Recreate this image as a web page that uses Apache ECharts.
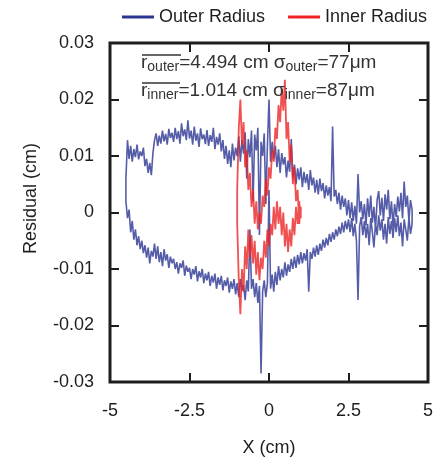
<!DOCTYPE html>
<html>
<head>
<meta charset="utf-8">
<script src="https://cdn.jsdelivr.net/npm/echarts@6/dist/echarts.min.js"></script>
<style>
  html, body { margin: 0; padding: 0; background: #fff; }
  #chart { width: 436px; height: 462px; }
</style>
</head>
<body>
<div id="chart"></div>
<script>
// x positions (cm) for the outer scan, both halves
const outerX = [
  -4.5,-4.45,-4.4,-4.35,-4.3,-4.25,-4.2,-4.15,-4.1,-4.05,
  -4.0,-3.95,-3.9,-3.85,-3.8,-3.75,-3.7,-3.65,-3.6,-3.55,
  -3.5,-3.45,-3.4,-3.35,-3.3,-3.25,-3.2,-3.15,-3.1,-3.05,
  -3.0,-2.95,-2.9,-2.85,-2.8,-2.75,-2.7,-2.65,-2.6,-2.55,
  -2.5,-2.45,-2.4,-2.35,-2.3,-2.25,-2.2,-2.15,-2.1,-2.05,
  -2.0,-1.95,-1.9,-1.85,-1.8,-1.75,-1.7,-1.65,-1.6,-1.55,
  -1.5,-1.45,-1.4,-1.35,-1.3,-1.25,-1.2,-1.15,-1.1,-1.05,
  -1.0,-0.95,-0.9,-0.85,-0.8,-0.75,-0.7,-0.65,-0.6,-0.55,
  -0.5,-0.45,-0.4,-0.35,-0.3,-0.25,-0.2,-0.15,-0.1,-0.05,
  0.0,0.05,0.1,0.15,0.2,0.25,0.3,0.35,0.4,0.45,
  0.5,0.55,0.6,0.65,0.7,0.75,0.8,0.85,0.9,0.95,
  1.0,1.05,1.1,1.15,1.2,1.25,1.3,1.35,1.4,1.45,
  1.5,1.55,1.6,1.65,1.7,1.75,1.8,1.85,1.9,1.95,
  2.0,2.05,2.1,2.15,2.2,2.25,2.3,2.35,2.4,2.45,
  2.5,2.55,2.6,2.65,2.7,2.75,2.8,2.85,2.9,2.95,
  3.0,3.05,3.1,3.15,3.2,3.25,3.3,3.35,3.4,3.45,
  3.5,3.55,3.6,3.65,3.7,3.75,3.8,3.85,3.9,3.95,
  4.0,4.05,4.1,4.15,4.2,4.25,4.3,4.35,4.4,4.45,
  4.5];

// residuals (cm), upper half of the outer radius
const outerUpper = [
  0.0060,0.0128,0.0095,0.0118,0.0090,0.0112,0.0098,0.0120,0.0094,0.0108,
  0.0100,0.0115,0.0082,0.0095,0.0070,0.0088,0.0066,0.0105,0.0128,0.0140,
  0.0118,0.0136,0.0122,0.0145,0.0126,0.0139,0.0120,0.0148,0.0132,0.0141,
  0.0125,0.0150,0.0130,0.0144,0.0122,0.0158,0.0135,0.0147,0.0128,0.0163,
  0.0131,0.0145,0.0120,0.0152,0.0127,0.0140,0.0116,0.0149,0.0130,0.0138,
  0.0121,0.0146,0.0118,0.0137,0.0125,0.0150,0.0112,0.0134,0.0120,0.0140,
  0.0108,0.0128,0.0095,0.0118,0.0086,0.0110,0.0080,0.0122,0.0092,0.0115,
  0.0100,0.0135,0.0090,0.0128,0.0104,0.0142,0.0060,0.0130,0.0098,0.0145,
  0.0020,0.0138,0.0110,0.0150,-0.0040,0.0125,0.0100,0.0140,0.0015,0.0118,
  0.0200,0.0090,0.0125,0.0095,0.0118,0.0080,0.0112,0.0070,0.0105,0.0085,
  0.0098,0.0062,0.0092,0.0072,0.0130,0.0060,0.0085,0.0050,0.0078,0.0058,
  0.0080,0.0045,0.0072,0.0052,0.0068,0.0040,0.0075,0.0048,0.0062,0.0035,
  0.0058,0.0032,0.0060,0.0038,0.0052,0.0025,0.0048,0.0030,0.0045,0.0020,
  0.0152,0.0028,0.0040,0.0015,0.0035,0.0005,0.0030,0.0010,0.0025,-0.0005,
  0.0022,-0.0010,0.0018,-0.0015,0.0012,-0.0020,0.0068,0.0000,0.0020,-0.0012,
  0.0015,-0.0022,0.0025,-0.0008,0.0030,-0.0018,0.0010,-0.0030,0.0022,0.0038,
  -0.0005,0.0026,-0.0015,0.0032,0.0005,0.0040,-0.0012,0.0020,-0.0025,0.0015,
  -0.0008,0.0028,0.0002,0.0035,-0.0010,0.0055,0.0010,0.0030,-0.0015,0.0022,
  0.0005];

// residuals (cm), lower half of the outer radius
const outerLower = [
  0.0020,-0.0010,0.0005,-0.0035,-0.0015,-0.0048,-0.0030,-0.0058,-0.0042,-0.0065,
  -0.0050,-0.0072,-0.0058,-0.0080,-0.0062,-0.0090,-0.0068,-0.0078,-0.0055,-0.0082,
  -0.0060,-0.0088,-0.0070,-0.0095,-0.0065,-0.0085,-0.0074,-0.0098,-0.0078,-0.0090,
  -0.0082,-0.0100,-0.0088,-0.0108,-0.0090,-0.0098,-0.0085,-0.0112,-0.0094,-0.0105,
  -0.0098,-0.0118,-0.0100,-0.0110,-0.0095,-0.0122,-0.0104,-0.0115,-0.0100,-0.0125,
  -0.0108,-0.0120,-0.0105,-0.0130,-0.0112,-0.0124,-0.0108,-0.0135,-0.0115,-0.0128,
  -0.0112,-0.0138,-0.0120,-0.0130,-0.0115,-0.0142,-0.0122,-0.0135,-0.0118,-0.0145,
  -0.0125,-0.0150,-0.0118,-0.0138,-0.0128,-0.0155,-0.0120,-0.0140,-0.0030,-0.0135,
  -0.0118,-0.0150,-0.0125,-0.0160,-0.0130,-0.0285,-0.0140,-0.0120,-0.0150,-0.0125,
  0.0040,-0.0135,-0.0110,-0.0140,-0.0105,-0.0128,-0.0095,-0.0120,-0.0100,-0.0115,
  -0.0088,-0.0112,-0.0092,-0.0105,-0.0082,-0.0100,-0.0078,-0.0098,-0.0075,-0.0092,
  -0.0070,-0.0090,-0.0072,-0.0085,-0.0065,-0.0140,-0.0070,-0.0082,-0.0062,-0.0078,
  -0.0058,-0.0075,-0.0055,-0.0068,-0.0048,-0.0062,-0.0045,-0.0058,-0.0038,-0.0052,
  -0.0035,-0.0048,-0.0030,-0.0042,-0.0025,-0.0038,-0.0018,-0.0035,-0.0015,-0.0030,
  -0.0012,-0.0035,-0.0010,-0.0042,-0.0020,-0.0050,-0.0155,-0.0025,-0.0008,-0.0040,
  -0.0015,-0.0045,-0.0020,-0.0058,-0.0010,-0.0035,-0.0062,-0.0018,-0.0040,-0.0005,
  -0.0032,-0.0012,-0.0048,-0.0020,-0.0055,-0.0008,-0.0038,-0.0015,-0.0045,-0.0010,
  -0.0035,-0.0005,-0.0042,-0.0018,-0.0060,-0.0012,-0.0030,-0.0050,-0.0008,-0.0038,
  -0.0020];

// x positions (cm) for the inner scan
const innerX = [-1.0,-0.95,-0.9,-0.85,-0.8,-0.75,-0.7,-0.65,-0.6,-0.55,-0.5,-0.45,-0.4,-0.35,-0.3,-0.25,-0.2,-0.15,-0.1,-0.05,
  0.0,0.05,0.1,0.15,0.2,0.25,0.3,0.35,0.4,0.45,0.5,0.55,0.6,0.65,0.7,0.75,0.8,0.85,0.9,0.95,1.0];

const innerUpper = [0.004,0.015,0.020,0.012,0.016,0.008,0.011,0.004,0.007,0.001,0.004,-0.002,0.002,-0.003,0.000,-0.002,0.003,0.001,0.006,0.003,
  0.008,0.006,0.011,0.009,0.015,0.013,0.019,0.016,0.022,0.018,0.0235,0.013,0.016,0.009,0.012,0.005,0.008,0.002,0.004,-0.002,0.001];

const innerLower = [-0.002,-0.012,-0.018,-0.010,-0.014,-0.006,-0.010,-0.003,-0.008,-0.004,-0.009,-0.005,-0.011,-0.007,-0.012,-0.008,-0.010,-0.005,-0.008,-0.003,
  -0.006,-0.002,-0.004,0.001,-0.003,0.002,-0.002,0.001,-0.004,0.000,-0.006,-0.002,-0.007,-0.003,-0.006,-0.001,-0.004,0.001,-0.002,0.002,-0.001];

const xTicks = [-5, -2.5, 0, 2.5, 5];
const yTicks = [-0.03, -0.02, -0.01, 0, 0.01, 0.02, 0.03];

// trace each scan as a closed loop: upper half left->right, lower half back
function loop(xs, up, low) {
  const pts = xs.map((x, i) => [x, up[i]]);
  for (let i = xs.length - 1; i >= 0; i--) pts.push([xs[i], low[i]]);
  pts.push(pts[0]);
  return pts;
}

const FONT = "'Liberation Sans', Arial, sans-serif";
const INK = '#1e1e1e';

const tick = { show: true, inside: true, length: 9, lineStyle: { color: INK, width: 2 } };

const xBase = { type: 'value', min: xTicks[0], max: xTicks[xTicks.length - 1], interval: 2.5,
  axisLine: { show: false, onZero: false }, splitLine: { show: false }, axisTick: tick };
const yBase = { type: 'value', min: yTicks[0], max: yTicks[yTicks.length - 1], interval: 0.01,
  axisLine: { show: false, onZero: false }, splitLine: { show: false }, axisTick: tick };

const chart = echarts.init(document.getElementById('chart'));
chart.setOption({
  animation: false,
  textStyle: { fontFamily: FONT },
  legend: {
    top: 8, left: 122, width: 330, padding: 0, itemGap: 23, itemWidth: 32, itemHeight: 3, icon: 'rect',
    textStyle: { fontSize: 18, color: INK, fontFamily: FONT },
    data: ['Outer Radius', 'Inner Radius']
  },
  grid: { left: 110, right: 5, top: 43, bottom: 77, show: true, borderColor: INK, borderWidth: 3, backgroundColor: '#fff' },
  xAxis: [
    Object.assign({}, xBase, {
      position: 'bottom',
      axisLabel: { fontSize: 18, color: INK, margin: 20, fontFamily: FONT },
      name: 'X (cm)', nameLocation: 'middle', nameGap: 57,
      nameTextStyle: { fontSize: 18, color: INK, fontFamily: FONT }
    }),
    Object.assign({}, xBase, { position: 'top', axisLabel: { show: false } })
  ],
  yAxis: [
    Object.assign({}, yBase, {
      position: 'left',
      axisLabel: { fontSize: 18, color: INK, margin: 16, fontFamily: FONT,
        formatter: v => String(+v.toFixed(2)) },
      name: 'Residual (cm)', nameLocation: 'middle', nameGap: 70,
      nameTextStyle: { fontSize: 18, color: INK, fontFamily: FONT, padding: [0, 0, 0, 28] }
    }),
    Object.assign({}, yBase, { position: 'right', axisLabel: { show: false } })
  ],
  series: [
    {
      name: 'Outer Radius', type: 'line', showSymbol: false,
      data: loop(outerX, outerUpper, outerLower),
      lineStyle: { color: '#2b3592', width: 1.6, opacity: 0.8 },
      itemStyle: { color: '#2b3592' }
    },
    {
      name: 'Inner Radius', type: 'line', showSymbol: false,
      data: loop(innerX, innerUpper, innerLower),
      lineStyle: { color: '#ee2424', width: 1.8, opacity: 0.8 },
      itemStyle: { color: '#ee2424' }
    }
  ],
  graphic: [
    {
      type: 'text', left: 141, top: 53, z: 100,
      style: {
        text: '{m|r}{s|outer}{m|=4.494 cm σ}{s|outer}{m|=77μm}',
        rich: {
          m: { fontSize: 19, lineHeight: 24, fill: '#333', fontFamily: FONT },
          s: { fontSize: 14, lineHeight: 13, verticalAlign: 'bottom', fill: '#333', fontFamily: FONT }
        }
      }
    },
    {
      type: 'text', left: 141, top: 81, z: 100,
      style: {
        text: '{m|r}{s|inner}{m|=1.014 cm σ}{s|inner}{m|=87μm}',
        rich: {
          m: { fontSize: 19, lineHeight: 24, fill: '#333', fontFamily: FONT },
          s: { fontSize: 14, lineHeight: 13, verticalAlign: 'bottom', fill: '#333', fontFamily: FONT }
        }
      }
    },
    { type: 'line', z: 100, shape: { x1: 142, y1: 55, x2: 181, y2: 55 }, style: { stroke: '#333', lineWidth: 1.5 } },
    { type: 'line', z: 100, shape: { x1: 142, y1: 83, x2: 180, y2: 83 }, style: { stroke: '#333', lineWidth: 1.5 } }
  ]
});
</script>
</body>
</html>
